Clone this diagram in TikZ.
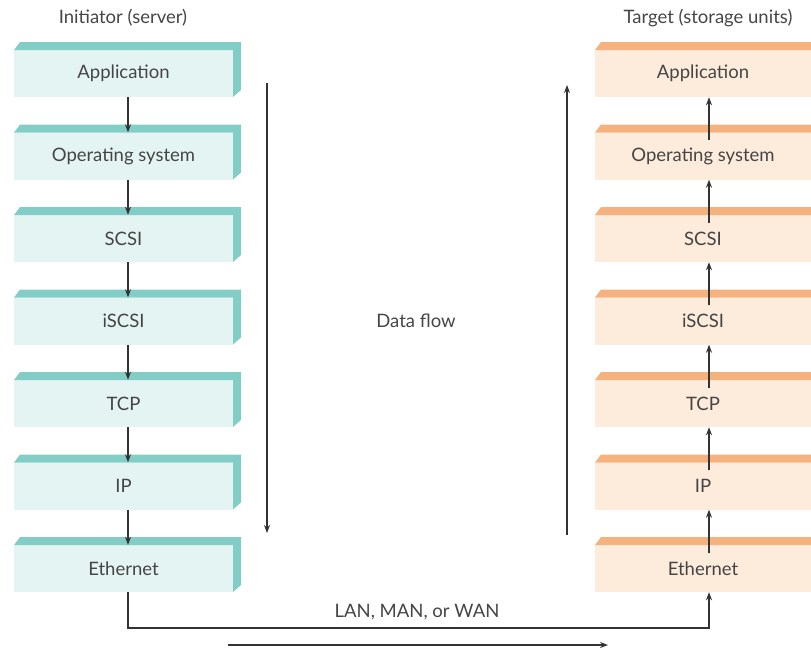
\documentclass[tikz,border=0pt]{standalone}
\usepackage{fontspec}
\setmainfont{Lato}
\usetikzlibrary{arrows.meta,calc}
\definecolor{tealband}{HTML}{82CEC6}
\definecolor{tealbody}{HTML}{E4F4F2}
\definecolor{orband}{HTML}{F6B27E}
\definecolor{orbody}{HTML}{FDEBDB}
\definecolor{txt}{HTML}{454545}
\definecolor{arr}{HTML}{333333}
\tikzset{
  lbody/.style={fill=tealbody, draw=none, minimum width=219pt, minimum height=47pt, inner sep=0pt, text=txt, font=\fontsize{18.5}{21}\selectfont},
  rbody/.style={fill=orbody, draw=none, minimum width=216pt, minimum height=47pt, inner sep=0pt, text=txt, font=\fontsize{18.5}{21}\selectfont},
  conn/.style={draw=arr, line width=1.3pt, -{Stealth[length=8pt,width=6pt]}},
  lbl/.style={text=txt, font=\fontsize{18.5}{21}\selectfont, inner sep=0pt}
}
\begin{document}
\begin{tikzpicture}[x=1pt,y=-1pt]
\useasboundingbox (0,0) rectangle (811,651);
\def\names{Application,Operating system,SCSI,iSCSI,TCP,IP,Ethernet}
\foreach \lab [count=\i] in \names {
  \pgfmathsetmacro{\t}{42+(\i-1)*82.5}
  % left box
  \node[lbody] (L\i) at (123.5,\t+31.5) {\lab};
  \fill[tealband] (20,\t) -- (241,\t) -- (241,\t+48) -- (233,\t+55) -- (233,\t+8) -- (14,\t+8) -- cycle;
  % right box
  \node[rbody] (R\i) at (703,\t+31.5) {\lab};
  \fill[orband] (601,\t) -- (811,\t) -- (811,\t+8) -- (595,\t+8) -- cycle;
}
\foreach \i [evaluate=\i as \j using int(\i+1)] in {1,...,6} {
  \draw[conn] ([xshift=4.5pt]L\i.south) -- ([xshift=4.5pt]L\j.north);
  \draw[conn] ([xshift=6pt,yshift=-8pt]R\j.north) -- ([xshift=6pt]R\i.south);
}
\node[lbl] (ti) at (123,18) {Initiator (server)};
\node[lbl] (tt) at (708,18) {Target (storage units)};
\node[lbl] (df) at (416,321) {Data flow};
\coordinate (d1) at (267,83);
\coordinate (d2) at (267,533);
\coordinate (u1) at (567,535);
\coordinate (u2) at (567,85);
\draw[conn] (d1) -- (d2);
\draw[conn] (u1) -- (u2);
\coordinate (c1) at (128,628);
\coordinate (c2) at (709,628);
\draw[conn] ([xshift=4.5pt]L7.south) -- (c1) -- (c2) -- ([xshift=6pt]R7.south);
\node[lbl] (lan) at (417,612) {LAN, MAN, or WAN};
\coordinate (b1) at (228,645);
\coordinate (b2) at (608,645);
\draw[conn] (b1) -- (b2);
\end{tikzpicture}
\end{document}
